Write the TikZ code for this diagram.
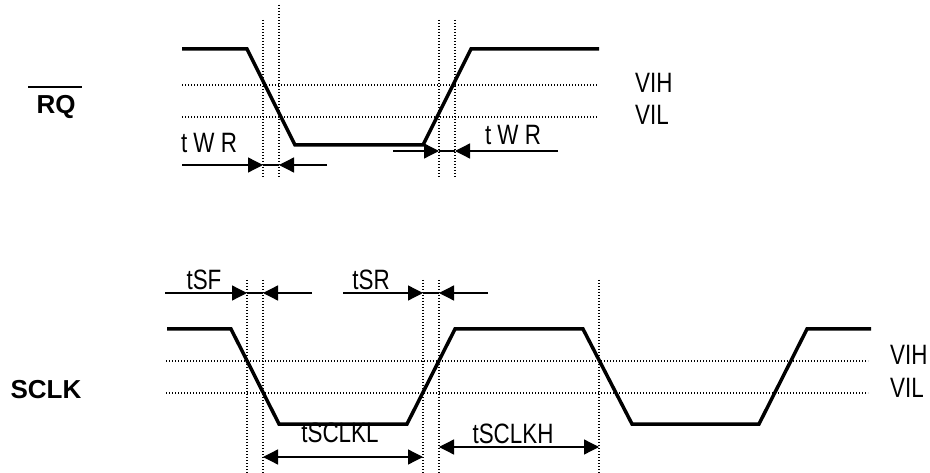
\documentclass[tikz,border=0pt]{standalone}
\usepackage{fontspec}
\setmainfont{Liberation Sans}
\newfontfamily\narrowsans{Liberation Sans}[FakeStretch=0.8]
\usetikzlibrary{arrows.meta}
\tikzset{signal/.style = {line width=3.5pt}}
\tikzset{level/.style = {line width=1.3pt, dash pattern=on 1.2pt off 1.8pt}}
\tikzset{guide/.style = {line width=1.3pt, dash pattern=on 1.2pt off 1.8pt}}
\tikzset{dim/.style = {line width=1.3pt, -{Triangle[length=15pt,width=15pt]}}}
\tikzset{dimboth/.style = {line width=1.3pt, {Triangle[length=15pt,width=15pt]}-{Triangle[length=15pt,width=15pt]}}}
\tikzset{tlabel/.style = {font=\narrowsans\fontsize{28}{32}\selectfont, inner sep=0pt, anchor=base}}
\tikzset{vlabel/.style = {font=\narrowsans\fontsize{28}{32}\selectfont, inner sep=0pt, anchor=base west}}
\tikzset{signame/.style = {font=\bfseries\fontsize{26}{30}\selectfont, inner sep=0pt, anchor=base}}

\begin{document}
\begin{tikzpicture}[x=1pt, y=-1pt]
\useasboundingbox (0,0) rectangle (930,473);
% RQ
\node [signame] (rq) at (56,114) {RQ};
\draw [line width=1.6pt] (28,87) -- (82,87);
\draw [level] (182,85) -- (597,85);
\draw [level] (182,117) -- (597,117);
\foreach \x/\t in {263/20, 279/5, 439/20, 455/20}
  \draw [guide] (\x,\t) -- (\x,178);
\draw [signal] (182,49) -- (247,49) -- (295,145) -- (423,145) -- (471,49) -- (599,49);
\node [vlabel] (vih1) at (635,93) {VIH};
\node [vlabel] (vil1) at (635,125) {VIL};
\coordinate (wa) at (263,165);
\coordinate (wb) at (279,165);
\draw [dim] (182,165) -- (wa);
\draw [dim] (327,165) -- (wb);
\draw [line width=1.3pt] (wa) -- (wb);
\node [tlabel] (twr1) at (209,153) {t W R};
\coordinate (wc) at (439,151);
\coordinate (wd) at (455,151);
\draw [dim] (393,151) -- (wc);
\draw [dim] (558,151) -- (wd);
\draw [line width=1.3pt] (wc) -- (wd);
\node [tlabel] (twr2) at (513,145) {t W R};
% SCLK
\node [signame] (sclk) at (46,399) {SCLK};
\draw [level] (166,361) -- (868,361);
\draw [level] (166,393) -- (868,393);
\foreach \x in {247,263,423,439,599}
  \draw [guide] (\x,280) -- (\x,473);
\draw [signal] (167,329) -- (231,329) -- (279,424) -- (407,424) -- (455,329) -- (583,329) -- (632,424) -- (759,424) -- (807,329) -- (871,329);
\node [vlabel] (vih2) at (890,365) {VIH};
\node [vlabel] (vil2) at (890,397) {VIL};
\coordinate (fa) at (247,293);
\coordinate (fb) at (263,293);
\draw [dim] (165,293) -- (fa);
\draw [dim] (312,293) -- (fb);
\draw [line width=1.3pt] (fa) -- (fb);
\node [tlabel] (tsf) at (204,290) {tSF};
\coordinate (ra) at (423,293);
\coordinate (rb) at (439,293);
\draw [dim] (343,293) -- (ra);
\draw [dim] (488,293) -- (rb);
\draw [line width=1.3pt] (ra) -- (rb);
\node [tlabel] (tsr) at (371,290) {tSR};
\draw [dimboth] (263,457) -- (423,457);
\node [tlabel] (tl) at (340,442) {tSCLKL};
\draw [dimboth] (439,447) -- (599,447);
\node [tlabel] (th) at (513,443) {tSCLKH};
\end{tikzpicture}
\end{document}
